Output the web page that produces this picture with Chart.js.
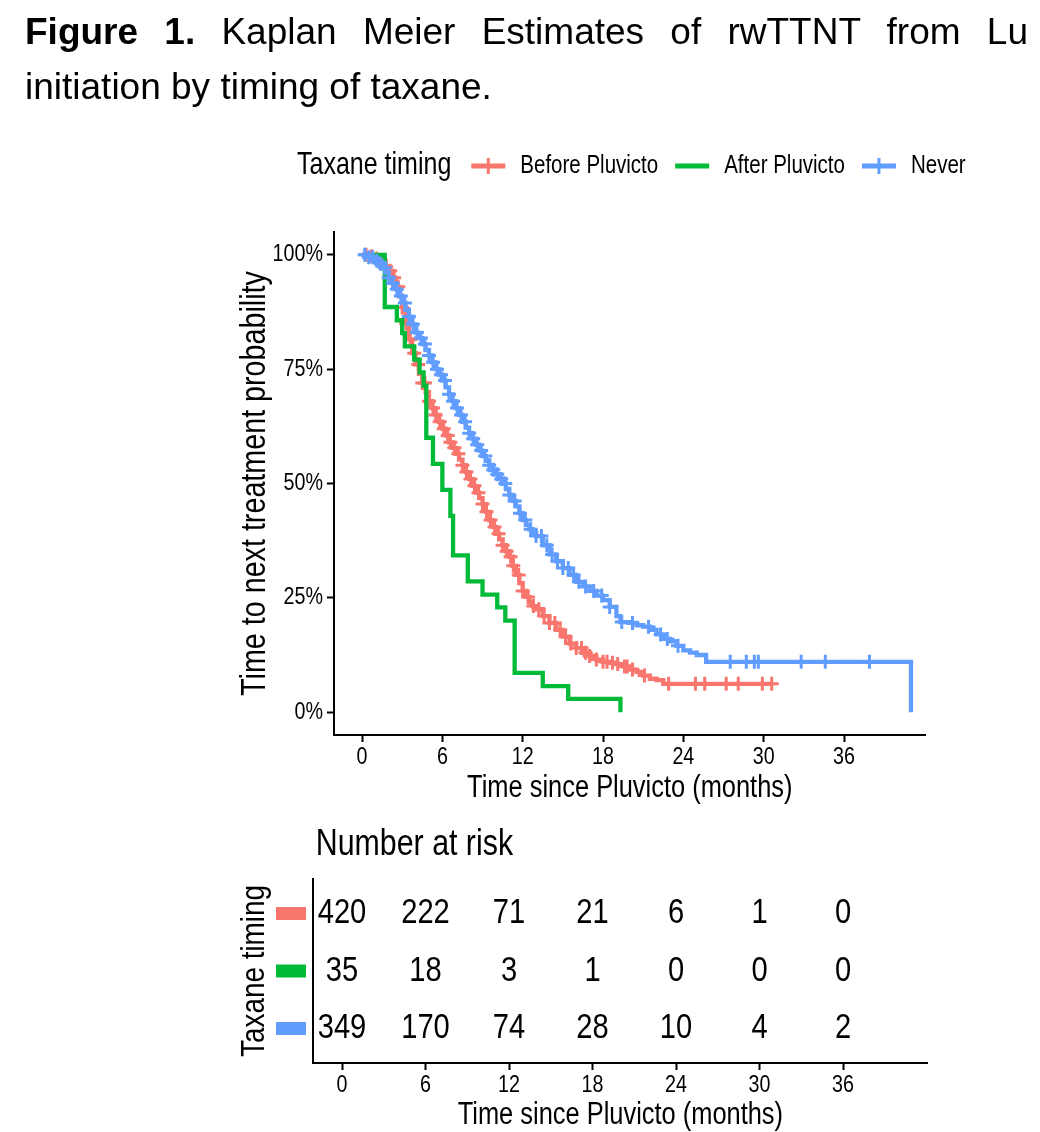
<!DOCTYPE html>
<html>
<head>
<meta charset="utf-8">
<script src="https://cdn.jsdelivr.net/npm/chart.js@4.4.1/dist/chart.umd.min.js"></script>
<style>
  body { margin: 0; background: #fff; width: 1040px; height: 1132px; position: relative; overflow: hidden; }
  #title { position: absolute; left: 25px; top: 4px; width: 1003px; font-family: 'Liberation Sans', Arial, sans-serif; font-size: 37px; line-height: 55px; color: #000; }
  #title .l1 { text-align: justify; text-align-last: justify; }
  #km { position: absolute; left: 0; top: 0; }
  #risk { position: absolute; left: 0; top: 810px; }
</style>
</head>
<body>
<canvas id="km" width="1040" height="810"></canvas>
<canvas id="risk" width="1040" height="322"></canvas>
<div id="title"><div class="l1"><b>Figure 1.</b> Kaplan Meier Estimates of rwTTNT from Lu</div><div>initiation by timing of taxane.</div></div>
<script>
// groups, in legend order
const groupNames = ['Before Pluvicto', 'After Pluvicto', 'Never'];
const groupColors = ['#F8766D', '#00BA38', '#619CFF'];

// KM estimates: [months, survival %]
const kmBefore = [[0,100],[0.5,99.7],[1,99.2],[1.25,98.8],[1.5,98.2],[1.75,97.4],[2,96.5],[2.25,95],[2.5,93],[2.75,91],
  [3,88.5],[3.25,85],[3.5,81.5],[3.75,78.5],[4,76],[4.25,74],[4.5,72],[4.75,70],[5,68],[5.25,66.5],[5.5,65],[5.75,63.5],
  [6,62],[6.25,60.5],[6.5,59],[6.75,57.8],[7,56.5],[7.25,55.2],[7.5,54],[7.75,52.5],[8,51],[8.25,49.5],[8.5,48],[8.75,46.8],
  [9,45.5],[9.25,43.8],[9.5,42],[9.75,40.5],[10,39],[10.25,37.8],[10.5,36.5],[10.75,35.2],[11,34],[11.25,32],[11.5,30],
  [11.75,28.2],[12,26.5],[12.25,25.2],[12.5,24],[12.75,23.2],[13,22.5],[13.5,21],[14,19.5],[14.5,18],[15,16.5],[15.5,15],
  [16,14],[16.5,13],[17,12.3],[17.5,11.5],[18,11],[18.5,10.8],[19,10.5],[19.5,10],[20,9.3],[20.5,8.8],[21,8],[21.5,7.3],
  [22,7],[22.5,6.2],[30.6,6.2]];
const kmAfter = [[0,100],[1.7,88.6],[2.6,85.7],[3.0,82.9],[3.2,80],[3.9,77.1],[4.3,74.3],[4.6,71.4],[4.8,60],[5.3,54.3],
  [6.0,48.6],[6.6,42.9],[6.8,34.3],[7.9,28.6],[9.0,25.7],[10.1,22.9],[10.7,20],[11.4,8.6],[13.5,5.7],[15.4,2.9],[19.3,0]];
const kmNever = [[0,100],[0.5,99.5],[1,98.7],[1.25,98],[1.5,97.2],[1.75,96.2],[2,95],[2.25,93.8],[2.5,92.5],[2.75,91],
  [3,89.5],[3.25,88],[3.5,86.5],[3.75,84.8],[4,83],[4.25,81.8],[4.5,80.5],[4.75,79.2],[5,78],[5.25,76.5],[5.5,75],[5.75,73.8],
  [6,72.5],[6.25,71],[6.5,69.5],[6.75,68],[7,66.5],[7.25,65],[7.5,63.5],[7.75,62.2],[8,61],[8.25,59.8],[8.5,58.5],[8.75,57.2],
  [9,56],[9.25,55],[9.5,54],[9.75,53],[10,52],[10.25,51],[10.5,50],[10.75,48.8],[11,47.5],[11.25,46.2],[11.5,45],[11.75,43.5],
  [12,42],[12.25,41],[12.5,40],[12.75,39.2],[13,38.5],[13.5,36.5],[14,34.5],[14.5,33],[15,31.5],[15.5,30],[16,28.5],
  [16.5,27.5],[17,26.5],[17.5,25.5],[18,24.5],[18.5,23],[19,21],[19.3,19.7],[20,19.5],[20.5,19],[21,18.7],[21.5,18],
  [22,17],[22.5,16],[23,15.5],[23.5,14.5],[24,13.5],[24.5,13],[25,12.5],[25.7,11],[41,0]];

// censoring times (months)
const censorBefore = [0.3,0.7,1.1,1.4,1.8,2.1,2.4,2.7,3.0,3.3,3.6,3.9,4.2,4.5,4.7,5.0,5.3,5.5,5.8,6.1,6.4,6.6,6.9,7.2,7.5,
  7.8,8.1,8.4,8.7,9.0,9.3,9.6,9.9,10.2,10.5,10.8,11.1,11.3,11.7,12.0,12.4,12.8,13.2,13.6,14.0,14.4,14.8,15.2,15.6,16.0,
  16.4,16.7,17.0,17.5,18.0,18.3,18.7,19.1,19.6,19.8,20.2,21.1,22.9,24.9,25.6,27.2,28.1,29.9,30.6];
const censorAfter = [];
const censorNever = [0.2,0.5,0.8,1.1,1.4,1.7,2.0,2.3,2.6,2.9,3.2,3.5,3.8,4.1,4.4,4.7,5.0,5.3,5.6,5.9,6.2,6.5,6.8,7.1,7.4,
  7.7,8.0,8.3,8.6,8.9,9.2,9.5,9.8,10.1,10.4,10.7,11.0,11.4,11.8,12.2,12.6,13.0,13.4,13.8,14.2,14.6,15.0,15.4,15.8,16.2,
  16.7,17.3,17.9,18.5,19.4,20.2,21.4,22.3,22.8,23.6,27.5,28.7,29.3,29.6,32.8,34.6,37.9];

const xTicks = [0, 6, 12, 18, 24, 30, 36];
const yTicks = [0, 25, 50, 75, 100];
const yTickLabels = ['0%', '25%', '50%', '75%', '100%'];

// number at risk table
const riskTimes = [0, 6, 12, 18, 24, 30, 36];
const riskBefore = [420, 222, 71, 21, 6, 1, 0];
const riskAfter = [35, 18, 3, 1, 0, 0, 0];
const riskNever = [349, 170, 74, 28, 10, 4, 2];

const curves = [kmBefore, kmAfter, kmNever];
const censors = [censorBefore, censorAfter, censorNever];
const riskRows = [riskBefore, riskAfter, riskNever];

const xTitle = 'Time since Pluvicto (months)';
const yTitle = 'Time to next treatment probability';

// no narrow font installed, so squeeze Liberation Sans like Arial Narrow
const fontFamily = '"Liberation Sans", Arial, sans-serif';
const squeeze = 0.82;

function narrowText(ctx, text, x, y, size, align, angle) {
    ctx.save();
    ctx.translate(x, y);
    if (angle) ctx.rotate(angle);
    ctx.scale(squeeze, 1);
    ctx.font = size + 'px ' + fontFamily;
    ctx.textAlign = align || 'left';
    ctx.textBaseline = 'middle';
    ctx.fillStyle = '#000';
    ctx.fillText(text, 0, 0);
    ctx.restore();
}

function textWidth(ctx, text, size) {
    ctx.save();
    ctx.font = size + 'px ' + fontFamily;
    const w = ctx.measureText(text).width * squeeze;
    ctx.restore();
    return w;
}

function survAt(curve, t) {
    let s = curve[0][1];
    for (const [tt, v] of curve) {
        if (tt <= t) s = v; else break;
    }
    return s;
}

function axisStyle() {
    return {
        grid: { drawOnChartArea: false, drawTicks: true, tickLength: 7, tickWidth: 2, tickColor: '#000', color: '#000' },
        border: { display: true, color: '#000', width: 2 },
        ticks: { display: false }
    };
}

// KM curves and censor marks
const kmSets = [];
curves.forEach((curve, i) => {
    kmSets.push({
        label: groupNames[i],
        data: curve.map(([x, y]) => ({ x, y })),
        showLine: true,
        stepped: true,
        borderColor: groupColors[i],
        borderWidth: 4.3,
        pointRadius: 0,
        borderCapStyle: 'butt',
        order: 10 - i * 3
    });
    if (censors[i].length) {
        kmSets.push({
            label: groupNames[i] + ' censored',
            data: censors[i].map(t => ({ x: t, y: survAt(curve, t) })),
            showLine: false,
            pointStyle: 'cross',
            pointRadius: 7,
            borderColor: groupColors[i],
            borderWidth: 3,
            order: 9 - i * 3
        });
    }
});

const kmText = {
    id: 'kmText',
    afterDraw(chart) {
        const ctx = chart.ctx;
        const { left, right, top, bottom } = chart.chartArea;
        const xs = chart.scales.x, ys = chart.scales.y;
        xTicks.forEach(v => narrowText(ctx, String(v), xs.getPixelForValue(v), bottom + 22, 24, 'center'));
        yTicks.forEach((v, i) => narrowText(ctx, yTickLabels[i], left - 11, ys.getPixelForValue(v), 24, 'right'));
        narrowText(ctx, xTitle, (left + right) / 2, bottom + 53, 31, 'center');
        narrowText(ctx, yTitle, 255, (top + bottom) / 2, 35, 'center', -Math.PI / 2);

        // legend
        const y = 166;
        let x = 297;
        narrowText(ctx, 'Taxane timing', x, y, 30.5);
        x += textWidth(ctx, 'Taxane timing', 30.5) + 20;
        groupNames.forEach((name, i) => {
            ctx.save();
            ctx.strokeStyle = groupColors[i];
            ctx.lineWidth = 5;
            ctx.beginPath();
            ctx.moveTo(x, y);
            ctx.lineTo(x + 34, y);
            ctx.stroke();
            if (censors[i].length) {
                ctx.lineWidth = 3;
                ctx.beginPath();
                ctx.moveTo(x + 17, y - 8);
                ctx.lineTo(x + 17, y + 8);
                ctx.stroke();
            }
            ctx.restore();
            x += 34 + 15;
            narrowText(ctx, name, x, y, 25);
            x += textWidth(ctx, name, 25) + 17;
        });
    }
};

const xMin = -2.1, xMax = 42.1;

new Chart(document.getElementById('km'), {
    type: 'scatter',
    data: { datasets: kmSets },
    options: {
        responsive: false,
        animation: false,
        layout: { padding: { left: 236, right: 114.3, top: 232, bottom: 0 } },
        plugins: { legend: { display: false }, tooltip: { enabled: false } },
        scales: {
            x: {
                type: 'linear', min: xMin, max: xMax,
                ...axisStyle(),
                afterBuildTicks: s => { s.ticks = xTicks.map(v => ({ value: v })); },
                afterFit: s => { s.height = 75; }
            },
            y: {
                type: 'linear', min: -5, max: 105,
                ...axisStyle(),
                afterBuildTicks: s => { s.ticks = yTicks.map(v => ({ value: v })); },
                afterFit: s => { s.width = 97.9; }
            }
        }
    },
    plugins: [kmText]
});

// number at risk table
const riskText = {
    id: 'riskText',
    afterDraw(chart) {
        const ctx = chart.ctx;
        const { left, right, top, bottom } = chart.chartArea;
        const xs = chart.scales.x, ys = chart.scales.y;
        chart.data.datasets.forEach((ds, i) => {
            chart.getDatasetMeta(i).data.forEach((pt, j) => {
                narrowText(ctx, String(ds.counts[j]), pt.x, pt.y, 35.5, 'center');
            });
        });
        groupColors.forEach((c, i) => {
            ctx.fillStyle = c;
            ctx.fillRect(276, ys.getPixelForValue(groupNames.length - i) - 6.5, 30, 13);
        });
        riskTimes.forEach(v => narrowText(ctx, String(v), xs.getPixelForValue(v), bottom + 22, 24, 'center'));
        narrowText(ctx, xTitle, (left + right) / 2, bottom + 52, 31, 'center');
        narrowText(ctx, 'Taxane timing', 255, (top + bottom) / 2, 34, 'center', -Math.PI / 2);
        narrowText(ctx, 'Number at risk', left + 3, 35, 37);
    }
};

new Chart(document.getElementById('risk'), {
    type: 'scatter',
    data: {
        datasets: riskRows.map((row, i) => ({
            label: groupNames[i],
            data: riskTimes.map(t => ({ x: t, y: groupNames.length - i })),
            counts: row,
            pointRadius: 0
        }))
    },
    options: {
        responsive: false,
        animation: false,
        layout: { padding: { left: 236, right: 112.1, top: 69, bottom: 0 } },
        plugins: { legend: { display: false }, tooltip: { enabled: false } },
        scales: {
            x: {
                type: 'linear', min: xMin, max: xMax,
                ...axisStyle(),
                afterBuildTicks: s => { s.ticks = riskTimes.map(v => ({ value: v })); },
                afterFit: s => { s.height = 69; }
            },
            y: {
                type: 'linear', min: 0.4, max: 3.6,
                grid: { display: false },
                border: { display: true, color: '#000', width: 2 },
                ticks: { display: false },
                afterFit: s => { s.width = 76.8; }
            }
        }
    },
    plugins: [riskText]
});
</script>
</body>
</html>
